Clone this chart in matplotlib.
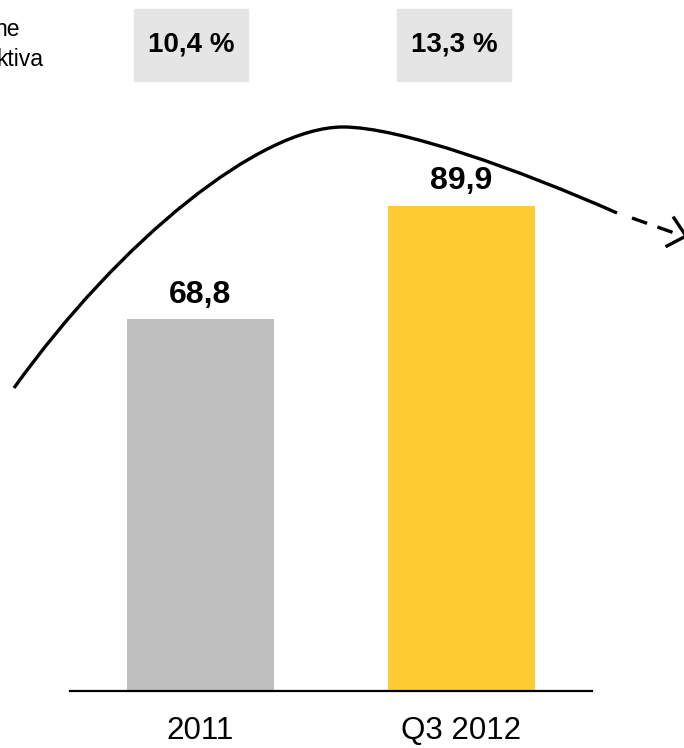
import matplotlib
matplotlib.use("Agg")
import matplotlib.pyplot as plt
from matplotlib.patches import Rectangle, PathPatch
from matplotlib.path import Path
from matplotlib.lines import Line2D

plt.rcParams["font.family"] = ["Liberation Sans", "DejaVu Sans"]

# data
categories = ["2011", "Q3 2012"]
values = [68.8, 89.9]
value_labels = ["68,8", "89,9"]
ratio_labels = ["10,4 %", "13,3 %"]
side_text = ["ne", "ktiva"]

C_BARS = ["#BFBFBF", "#FFCB33"]
C_BOX = "#E5E5E5"

W, H = 684, 748
fig = plt.figure(figsize=(W / 100, H / 100), dpi=100)


def fx(x):
    return x / W


def fy(y):
    return 1 - y / H


# bar axes: baseline at y=691 px, x from 70 to 592 px
ax = fig.add_axes([fx(70), fy(691), fx(592) - fx(70), fy(0) - fy(691)])
px_per_unit = 5.4
ax.set_xlim(-0.5, 1.5)
ax.set_ylim(0, 691 / px_per_unit)
x = list(range(len(categories)))
ax.bar(x, values, width=0.56, color=C_BARS, zorder=2)
for xi, v, lab in zip(x, values, value_labels):
    ax.annotate(lab, (xi, v), xytext=(0, 7), textcoords="offset points",
                ha="center", va="bottom", fontsize=23, fontweight="bold")

ax.set_xticks(x)
ax.set_xticklabels(categories, fontsize=22.5)
ax.tick_params(axis="x", length=0, pad=18)
ax.set_yticks([])
for s in ["top", "right", "left"]:
    ax.spines[s].set_visible(False)
ax.spines["bottom"].set_linewidth(1.6)
ax.patch.set_visible(False)

# ratio boxes above the bars
for cx, lab in zip([191, 454], ratio_labels):
    fig.patches.append(Rectangle((fx(cx - 57), fy(81)), fx(114), 72 / H,
                                 transform=fig.transFigure, color=C_BOX, zorder=0))
    fig.text(fx(cx), fy(45), lab, ha="center", va="center",
             fontsize=20, fontweight="bold")

# left-hand label, cut at the figure edge as in the original
fig.text(fx(20), fy(30), side_text[0], ha="right", va="center", fontsize=16.5)
fig.text(fx(43), fy(60), side_text[1], ha="right", va="center", fontsize=16.5)

# trend curve
pts = [(14, 388), (120, 240), (260, 127), (343, 127),
       (400, 127), (520, 170), (617, 213)]
codes = [Path.MOVETO] + [Path.CURVE4] * 6
curve = Path([(fx(a), fy(b)) for a, b in pts], codes)
fig.patches.append(PathPatch(curve, transform=fig.transFigure, fill=False,
                             lw=2.4, edgecolor="black", capstyle="butt"))

# dashed continuation + open arrow head
fig.lines.append(Line2D([fx(632), fx(680)], [fy(218), fy(235)],
                        transform=fig.transFigure, color="black", lw=2.4,
                        ls=(0, (4.8, 3.3)), solid_capstyle="butt",
                        dash_capstyle="butt"))
tip = (686, 236)
for arm in [(674, 218), (667, 246)]:
    fig.lines.append(Line2D([fx(arm[0]), fx(tip[0])], [fy(arm[1]), fy(tip[1])],
                            transform=fig.transFigure, color="black", lw=2.4))

fig.savefig("out.png", dpi=100)
